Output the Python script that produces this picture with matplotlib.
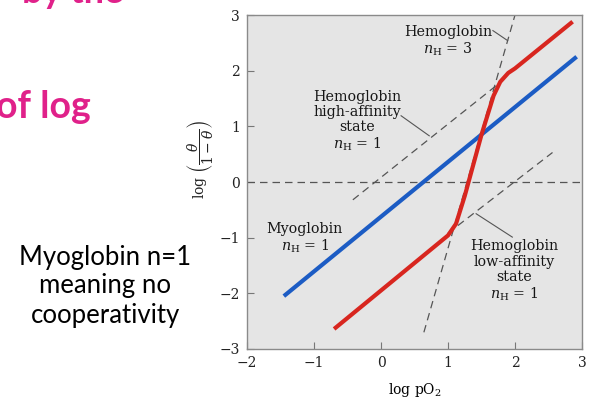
import matplotlib
matplotlib.use("Agg")
import matplotlib.pyplot as plt

# curves (log pO2, log(theta/(1-theta)))
myo_x = [-1.45, 2.92]
myo_y = [-2.05, 2.25]

hb_x = [-0.70, 0.10, 1.00, 1.12, 1.25, 1.50, 1.68, 1.78, 1.90, 2.00, 2.86]
hb_y = [-2.64, -1.85, -0.96, -0.75, -0.25, 0.85, 1.55, 1.80, 1.96, 2.04, 2.88]

# dashed reference lines
high_x = [-0.42, 1.75]
high_y = [-0.32, 1.76]
low_x = [1.00, 2.56]
low_y = [-0.92, 0.53]
n3_x = [0.64, 2.00]
n3_y = [-2.70, 3.00]

xticks = [-2, -1, 0, 1, 2, 3]
yticks = [-3, -2, -1, 0, 1, 2, 3]

pink = "#e0218a"
red = "#d8261f"
blue = "#1c5cc4"
grey = "#555555"

plt.rcParams["mathtext.fontset"] = "dejavuserif"

fig = plt.figure(figsize=(5.97, 4.0), dpi=100)
ax = fig.add_axes([247 / 597, 1 - 349 / 400, 335 / 597, 334 / 400])
ax.set_facecolor("#e5e5e5")

ax.axhline(0, color=grey, lw=0.9, ls=(0, (6, 4)))
ax.plot(high_x, high_y, color=grey, lw=0.9, ls=(0, (6, 4)))
ax.plot(low_x, low_y, color=grey, lw=0.9, ls=(0, (6, 4)))
ax.plot(n3_x, n3_y, color=grey, lw=0.9, ls=(0, (6, 4)))

ax.plot(myo_x, myo_y, color=blue, lw=3.0, solid_capstyle="butt")
ax.plot(hb_x, hb_y, color=red, lw=3.0, solid_capstyle="butt", solid_joinstyle="round")

ax.set_xlim(-2, 3)
ax.set_ylim(-3, 3)
ax.set_xticks(xticks)
ax.set_yticks(yticks)
ax.tick_params(direction="in", length=5, width=0.8, color="#777777",
               labelsize=10, pad=5, labelcolor="#222222")
for lab in ax.get_xticklabels() + ax.get_yticklabels():
    lab.set_family("DejaVu Serif")
for sp in ax.spines.values():
    sp.set_color("#8a8a8a")
    sp.set_linewidth(1.0)

tkw = dict(family="DejaVu Serif", fontsize=10.3, ha="center", va="center",
           linespacing=1.12, color="#161616")
ax.text(1.0, 2.52, "Hemoglobin\n$n_\\mathrm{H}$ = 3", **tkw)
ax.text(-0.35, 1.09, "Hemoglobin\nhigh-affinity\nstate\n$n_\\mathrm{H}$ = 1", **tkw)
ax.text(-1.14, -1.02, "Myoglobin\n$n_\\mathrm{H}$ = 1", **tkw)
ax.text(1.99, -1.6, "Hemoglobin\nlow-affinity\nstate\n$n_\\mathrm{H}$ = 1", **tkw)

# leader lines
ax.plot([1.67, 1.89], [2.72, 2.54], color=grey, lw=0.8)
ax.plot([0.30, 0.72], [1.19, 0.83], color=grey, lw=0.8)
ax.plot([1.42, 1.96], [-0.57, -0.99], color=grey, lw=0.8)

ax.set_xlabel("log pO$_2$", family="DejaVu Serif", fontsize=10, labelpad=8)
fig.text(201 / 597, 1 - 160 / 400,
         r"$\log\,\left(\dfrac{\theta}{1-\theta}\right)$",
         rotation=90, ha="center", va="center", fontsize=10, color="#222222")

# slide text around the figure
fig.text(123 / 597, 1 - 3 / 400, "by the", ha="right", va="baseline",
         family="Lato", weight="bold", fontsize=26, color=pink)
fig.text(91 / 597, 1 - 118 / 400, "of log", ha="right", va="baseline",
         family="Lato", weight="bold", fontsize=27, color=pink)
fig.text(105 / 597, 1 - 286 / 400, "Myoglobin n=1\nmeaning no\ncooperativity",
         ha="center", va="center", family="Lato", fontsize=18.5,
         linespacing=1.2, color="black")

fig.savefig("out.png", dpi=100)
